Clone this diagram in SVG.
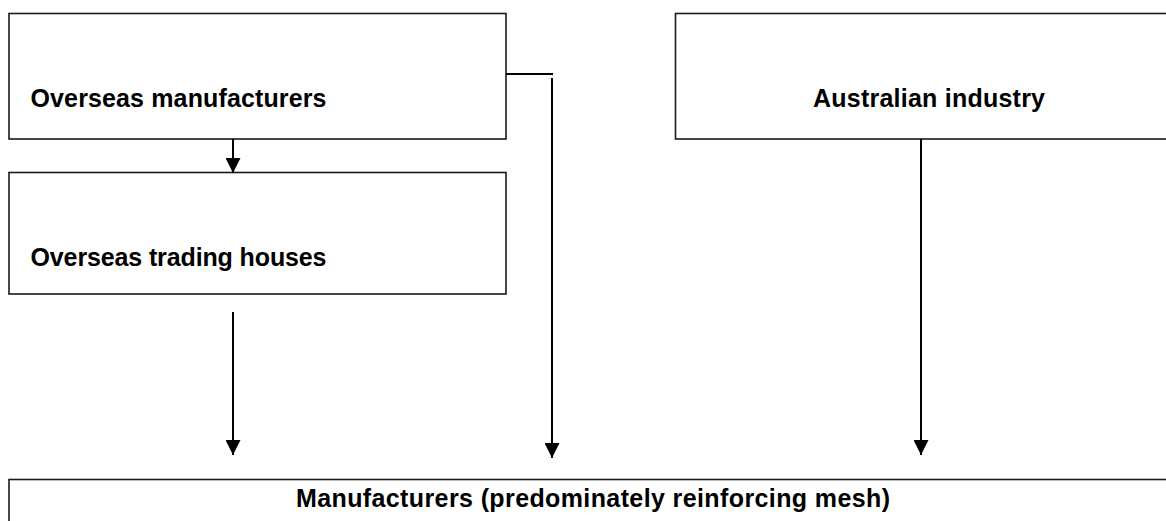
<svg xmlns="http://www.w3.org/2000/svg" width="1166" height="521" viewBox="0 0 1166 521">
  <style>
    .box { fill: #ffffff; stroke: #1a1a1a; stroke-width: 1.6; }
    .lbl { font-family: "Liberation Sans", Arial, sans-serif; font-weight: bold; font-size: 25px; fill: #000000; }
    .conn { stroke: #000000; stroke-width: 2; fill: none; }
  </style>
  <defs>
    <marker id="arrow" viewBox="0 0 15 15" refX="15" refY="7.5" markerWidth="15" markerHeight="15" markerUnits="userSpaceOnUse" orient="auto">
      <path d="M0,0 L15,7.5 L0,15 z" fill="#000000"/>
    </marker>
  </defs>
  <rect x="0" y="0" width="1166" height="521" fill="#ffffff"/>

  <g id="node-overseas-manufacturers">
    <rect class="box" x="9" y="13.5" width="497" height="125.5"/>
    <text class="lbl" x="30.5" y="106.5" textLength="296">Overseas manufacturers</text>
  </g>

  <g id="node-overseas-trading-houses">
    <rect class="box" x="9" y="172.5" width="497" height="121.5"/>
    <text class="lbl" x="30.5" y="266" textLength="296">Overseas trading houses</text>
  </g>

  <g id="node-australian-industry">
    <rect class="box" x="675.5" y="13.5" width="520" height="125.5"/>
    <text class="lbl" x="929" y="106.5" text-anchor="middle" textLength="232">Australian industry</text>
  </g>

  <g id="node-manufacturers">
    <rect class="box" x="9" y="479.5" width="1190" height="60"/>
    <text class="lbl" x="593" y="507" text-anchor="middle" textLength="594">Manufacturers (predominately reinforcing mesh)</text>
  </g>

  <g id="connectors">
    <line class="conn" x1="233" y1="139" x2="233" y2="173" marker-end="url(#arrow)"/>
    <line class="conn" x1="233" y1="312" x2="233" y2="455" marker-end="url(#arrow)"/>
    <polyline class="conn" points="506,74 553,74"/>
    <line class="conn" x1="552" y1="78" x2="552" y2="458" marker-end="url(#arrow)"/>
    <line class="conn" x1="921" y1="139" x2="921" y2="455" marker-end="url(#arrow)"/>
  </g>
</svg>
